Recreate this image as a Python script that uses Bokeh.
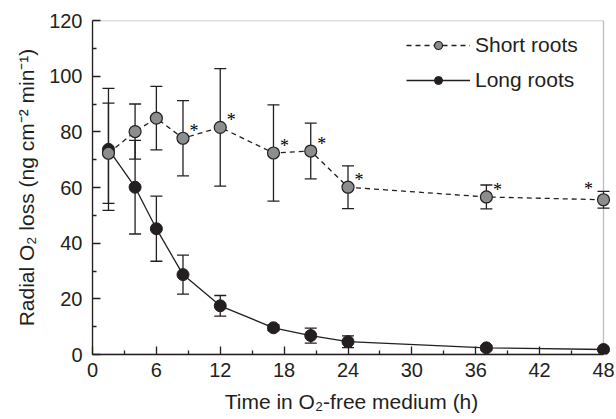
from bokeh.plotting import figure
from bokeh.models import (ColumnDataSource, Whisker, TeeHead, FixedTicker, Legend,
                          LegendItem, Range1d, BoxAnnotation)
from bokeh.embed import file_html
from bokeh.resources import INLINE

# ---- data ----
time_h = [1.5, 4, 6, 8.5, 12, 17, 20.5, 24, 37, 48]
short_mean = [72.3, 80.1, 84.9, 77.7, 81.6, 72.4, 73.1, 60.1, 56.6, 55.6]
short_se = [18.0, 9.9, 11.4, 13.5, 21.1, 17.3, 10.0, 7.7, 4.3, 3.0]
long_mean = [73.7, 60.1, 45.2, 28.7, 17.5, 9.6, 6.8, 4.6, 2.4, 1.8]
long_se = [21.9, 16.8, 11.7, 7.0, 3.7, 1.0, 2.7, 2.1, 0.8, 0.5]
short_sig = [False, False, False, True, True, True, True, True, True, True]

x_ticks = [0, 6, 12, 18, 24, 30, 36, 42, 48]
x_minor = [3, 9, 15, 21, 27, 33, 39, 45]
y_ticks = [0, 20, 40, 60, 80, 100, 120]
y_minor = [10, 30, 50, 70, 90, 110]

x_label = "Time in O\u2082-free medium (h)"
y_label = "Radial O\u2082 loss (ng cm\u207b\u00b2 min\u207b\u00b9)"
short_name = "Short roots"
long_name = "Long roots"

INK = "#231f20"
GREY = "#8b8d8f"
FONT = "Liberation Sans"

short_src = ColumnDataSource(dict(
    x=time_h, y=short_mean,
    lo=[m - s for m, s in zip(short_mean, short_se)],
    hi=[m + s for m, s in zip(short_mean, short_se)]))
long_src = ColumnDataSource(dict(
    x=time_h, y=long_mean,
    lo=[m - s for m, s in zip(long_mean, long_se)],
    hi=[m + s for m, s in zip(long_mean, long_se)]))

sig_idx = [i for i, s in enumerate(short_sig) if s]
star_src = ColumnDataSource(dict(x=[time_h[i] for i in sig_idx[:-1]],
                                 y=[short_mean[i] for i in sig_idx[:-1]],
                                 t=["*"] * (len(sig_idx) - 1)))
star_last = ColumnDataSource(dict(x=[time_h[sig_idx[-1]]], y=[short_mean[sig_idx[-1]]], t=["*"]))

# frame: x 0..48 spans 511 px; frame extended 7 px past 48 so edge markers are not cut
x_end = x_ticks[-1] * 518 / 511

p = figure(width=616, height=419, output_backend="svg", toolbar_location=None,
           x_range=Range1d(x_ticks[0], x_end), y_range=Range1d(y_ticks[0], y_ticks[-1]),
           min_border_left=92, min_border_right=6, min_border_top=20, min_border_bottom=65)
p.xgrid.visible = False
p.ygrid.visible = False
p.outline_line_color = None
p.background_fill_color = "white"
p.border_fill_color = "white"

frame_box = BoxAnnotation(left=x_ticks[0], right=x_ticks[-1], bottom=y_ticks[0], top=y_ticks[-1],
                          fill_alpha=0, line_color=INK, line_width=1.3, level="underlay")
p.add_layout(frame_box)

p.xaxis.ticker = FixedTicker(ticks=x_ticks, minor_ticks=x_minor)
p.yaxis.ticker = FixedTicker(ticks=y_ticks, minor_ticks=y_minor)
p.xaxis.bounds = (x_ticks[0], x_ticks[-1])
for ax in (p.xaxis[0], p.yaxis[0]):
    ax.axis_line_color = INK
    ax.axis_line_width = 1.3
    ax.major_tick_line_color = INK
    ax.minor_tick_line_color = INK
    ax.major_tick_line_width = 1.3
    ax.minor_tick_line_width = 1.3
    ax.major_tick_in = 8
    ax.major_tick_out = 0
    ax.minor_tick_in = 4
    ax.minor_tick_out = 0
    ax.major_label_text_font = FONT
    ax.major_label_text_font_size = "20px"
    ax.major_label_text_color = INK
    ax.axis_label_text_font = FONT
    ax.axis_label_text_font_size = "21px"
    ax.axis_label_text_font_style = "normal"
    ax.axis_label_text_color = INK
p.xaxis.axis_label = x_label
p.yaxis.axis_label = y_label
p.xaxis.major_label_standoff = 8
p.xaxis.axis_label_standoff = 10
p.yaxis.major_label_standoff = 10
p.yaxis.axis_label_standoff = 8

for src in (long_src, short_src):
    w = Whisker(base="x", lower="lo", upper="hi", source=src, line_color=INK, line_width=1.3,
                level="underlay",
                upper_head=TeeHead(size=12, line_color=INK, line_width=1.3),
                lower_head=TeeHead(size=12, line_color=INK, line_width=1.3))
    p.add_layout(w)

long_line = p.line("x", "y", source=long_src, line_color=INK, line_width=1.3)
short_line = p.line("x", "y", source=short_src, line_color=INK, line_width=1.3, line_dash="5 4")
long_pts = p.scatter("x", "y", source=long_src, size=12, fill_color=INK, line_color=INK, line_width=1)
short_pts = p.scatter("x", "y", source=short_src, size=12, fill_color=GREY, line_color=INK, line_width=1.2)

p.text("x", "y", text="t", source=star_src, x_offset=11, y_offset=-7, text_font_size="18px",
       text_align="center", text_baseline="middle", text_color="black", text_font=FONT)
p.text("x", "y", text="t", source=star_last, x_offset=-15, y_offset=-11, text_font_size="18px",
       text_align="center", text_baseline="middle", text_color="black", text_font=FONT)

legend = Legend(items=[LegendItem(label=short_name, renderers=[short_line, short_pts]),
                       LegendItem(label=long_name, renderers=[long_line, long_pts])],
                location=(314, 262), glyph_width=64, glyph_height=20, label_height=20,
                spacing=11, padding=0, margin=0, label_standoff=5,
                label_text_font=FONT, label_text_font_size="21px", label_text_color=INK,
                border_line_color=None, background_fill_alpha=0)
p.add_layout(legend)

open("out.html", "w").write(file_html(p, INLINE))
